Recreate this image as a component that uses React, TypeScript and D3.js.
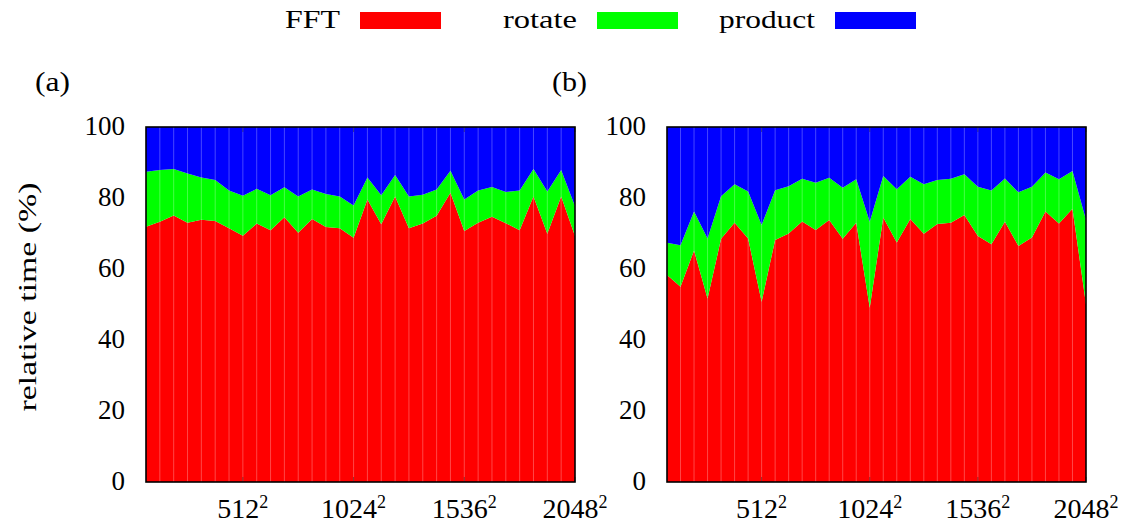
import React from "react";
import * as d3 from "d3";

// Problem sizes N (grid is N x N)
const sizes = [
  64, 128, 192, 256, 320, 384, 448, 512, 576, 640, 704, 768, 832, 896, 960, 1024,
  1088, 1152, 1216, 1280, 1344, 1408, 1472, 1536, 1600, 1664, 1728, 1792, 1856, 1920, 1984, 2048,
];

// (a) share of run time per stage, in percent
const fftA = [
  71.9, 73.3, 75.1, 73.0, 73.9, 73.5, 71.5, 69.4, 72.8, 70.9, 74.6, 70.2, 74.1, 71.8, 71.5, 68.8,
  79.6, 72.6, 80.4, 71.5, 72.8, 75.0, 81.5, 70.7, 73.0, 74.7, 72.9, 70.9, 80.4, 69.9, 80.4, 69.3,
];
const rotateA = [
  15.5, 14.6, 13.1, 13.9, 11.9, 11.6, 10.6, 11.2, 9.8, 9.9, 8.4, 10.2, 8.3, 9.3, 8.9, 9.1,
  6.2, 8.2, 6.1, 8.9, 8.1, 7.4, 6.2, 8.9, 9.1, 8.4, 8.8, 11.2, 7.8, 11.9, 7.5, 8.4,
];
const productA = [
  12.6, 12.1, 11.8, 13.1, 14.2, 14.9, 17.9, 19.4, 17.4, 19.2, 17.0, 19.6, 17.6, 18.9, 19.6, 22.1,
  14.2, 19.2, 13.5, 19.6, 19.1, 17.6, 12.3, 20.4, 17.9, 16.9, 18.3, 17.9, 11.8, 18.2, 12.1, 22.3,
];

// (b) share of run time per stage, in percent
const fftB = [
  58.3, 55.0, 65.2, 51.7, 68.5, 73.0, 68.6, 50.8, 68.2, 70.0, 73.4, 71.0, 73.8, 68.5, 73.0, 49.1,
  74.5, 67.5, 74.1, 69.9, 72.7, 73.0, 75.2, 69.3, 67.0, 73.3, 66.5, 68.9, 76.2, 72.8, 77.0, 50.0,
];
const rotateB = [
  9.1, 11.7, 11.0, 16.9, 12.0, 10.9, 13.2, 21.6, 14.0, 13.3, 12.0, 13.3, 11.9, 14.4, 12.3, 24.2,
  11.7, 15.0, 11.9, 14.0, 12.4, 12.4, 11.5, 13.9, 15.1, 12.2, 15.1, 14.3, 11.0, 12.5, 10.6, 23.8,
];
const productB = [
  32.6, 33.3, 23.8, 31.4, 19.5, 16.1, 18.2, 27.6, 17.8, 16.7, 14.6, 15.7, 14.3, 17.1, 14.7, 26.7,
  13.8, 17.5, 14.0, 16.1, 14.9, 14.6, 13.3, 16.8, 17.9, 14.5, 18.4, 16.8, 12.8, 14.7, 12.4, 26.2,
];

const seriesKeys = ["FFT", "rotate", "product"];
const seriesColors = ["#ff0000", "#00ff00", "#0000ff"];
const xTicks = [512, 1024, 1536, 2048];
const yTicks = [0, 20, 40, 60, 80, 100];

const W = 1129;
const H = 524;
const FONT = "'Liberation Serif', 'Times New Roman', serif";
const TOP = 127;
const BOTTOM = 482;

type Row = { size: number; FFT: number; rotate: number; product: number };

function buildRows(f: number[], r: number[], p: number[]): Row[] {
  return sizes.map((s, i) => ({ size: s, FFT: f[i], rotate: r[i], product: p[i] }));
}

const panels = [
  { tag: "(a)", tagX: 35, left: 146, right: 575, rows: buildRows(fftA, rotateA, productA), yTitle: true },
  { tag: "(b)", tagX: 552, left: 667, right: 1086, rows: buildRows(fftB, rotateB, productB), yTitle: false },
];

const y = d3.scaleLinear().domain([0, 100]).range([BOTTOM, TOP]);

function Panel({ p }: { p: (typeof panels)[number] }) {
  const x = d3.scaleLinear().domain([sizes[0], sizes[sizes.length - 1]]).range([p.left, p.right]);
  const stacked = d3.stack<Row>().keys(seriesKeys)(p.rows);
  const area = d3
    .area<d3.SeriesPoint<Row>>()
    .x((d) => x(d.data.size))
    .y0((d) => y(d[0]))
    .y1((d) => y(d[1]));

  return (
    <g>
      <text
        x={p.tagX}
        y={91}
        fontSize={27}
        fontFamily={FONT}
        textLength={35}
        lengthAdjust="spacingAndGlyphs"
      >
        {p.tag}
      </text>
      {stacked.map((s, i) => (
        <path key={s.key} d={area(s) || ""} fill={seriesColors[i]} />
      ))}
      {/* faint seams between neighbouring filled segments */}
      {sizes.slice(1, -1).map((s) => (
        <line
          key={s}
          x1={x(s)}
          x2={x(s)}
          y1={TOP}
          y2={BOTTOM}
          stroke="#ffffff"
          strokeOpacity={0.28}
          strokeWidth={1}
        />
      ))}
      {xTicks.map((t) => (
        <g key={t}>
          <line x1={x(t)} x2={x(t)} y1={BOTTOM} y2={BOTTOM - 5} stroke="#222" strokeWidth={1} strokeOpacity={0.5} />
          <line x1={x(t)} x2={x(t)} y1={TOP} y2={TOP + 5} stroke="#222" strokeWidth={1} strokeOpacity={0.5} />
        </g>
      ))}
      <rect
        x={p.left}
        y={TOP}
        width={p.right - p.left}
        height={BOTTOM - TOP}
        fill="none"
        stroke="#000"
        strokeWidth={1.6}
      />
      {yTicks.map((t) => (
        <text
          key={t}
          x={p.left - 21}
          y={y(t) + 8}
          textAnchor="end"
          fontSize={27}
          fontFamily={FONT}
        >
          {t}
        </text>
      ))}
      {xTicks.map((t) => (
        <text key={t} x={x(t)} y={518} textAnchor="middle" fontSize={28} fontFamily={FONT}>
          <tspan>{t}</tspan>
          <tspan dy={-10} fontSize={18}>
            2
          </tspan>
        </text>
      ))}
      {p.yTitle && (
        <text
          transform="translate(36,297) rotate(-90)"
          textAnchor="middle"
          fontSize={26}
          fontFamily={FONT}
          textLength={229}
          lengthAdjust="spacingAndGlyphs"
        >
          relative time (%)
        </text>
      )}
    </g>
  );
}

const legendItems = [
  { label: "FFT", box: 360, textWidth: 55 },
  { label: "rotate", box: 597, textWidth: 74 },
  { label: "product", box: 835, textWidth: 96 },
];

export default function App() {
  return (
    <svg
      width={W}
      height={H}
      viewBox={`0 0 ${W} ${H}`}
      style={{ position: "absolute", left: 0, top: 0, background: "#fff" }}
    >
      <rect width={W} height={H} fill="#fff" />
      {legendItems.map((l, i) => (
        <g key={l.label}>
          <text
            x={l.box - 20 - l.textWidth}
            y={28}
            fontSize={26}
            fontFamily={FONT}
            textLength={l.textWidth}
            lengthAdjust="spacingAndGlyphs"
          >
            {l.label}
          </text>
          <rect x={l.box} y={12} width={81} height={17} fill={seriesColors[i]} />
        </g>
      ))}
      {panels.map((p) => (
        <Panel key={p.tag} p={p} />
      ))}
    </svg>
  );
}
